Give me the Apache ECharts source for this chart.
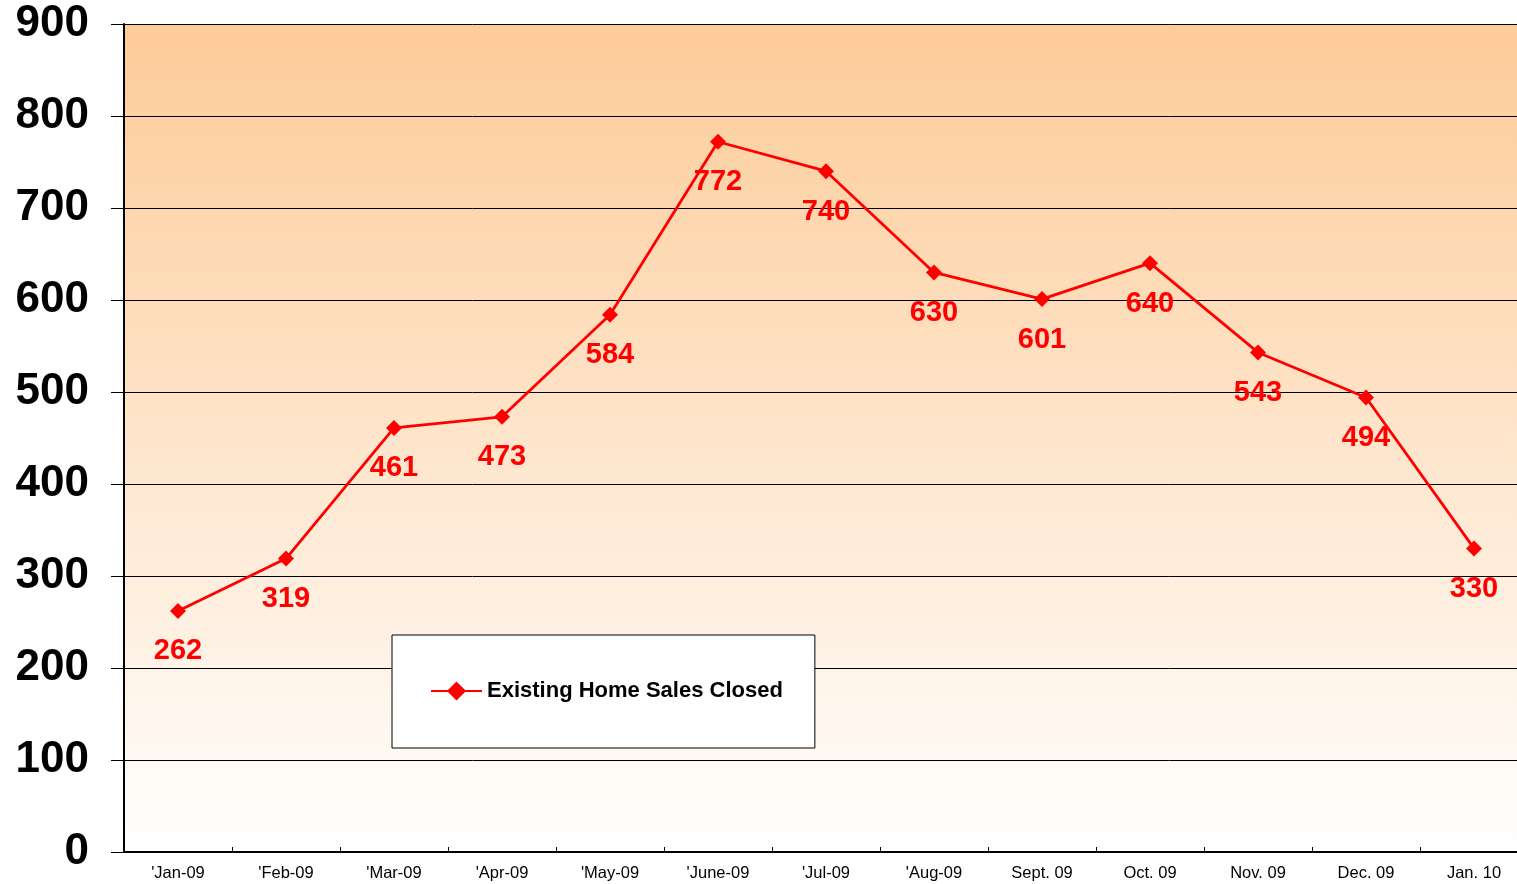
<!DOCTYPE html>
<html><head><meta charset="utf-8">
<script src="https://cdn.jsdelivr.net/npm/echarts@6/dist/echarts.min.js"></script>
<style>html,body{margin:0;padding:0;background:#fff}#c{width:1517px;height:884px}</style>
</head><body><div id="c"></div>
<script>
const categories = ["'Jan-09","'Feb-09","'Mar-09","'Apr-09","'May-09","'June-09","'Jul-09","'Aug-09","Sept. 09","Oct. 09","Nov. 09","Dec. 09","Jan. 10"];
const salesClosed = [262,319,461,473,584,772,740,630,601,640,543,494,330];
const seriesName = 'Existing Home Sales Closed';
const yMin = 0, yMax = 900, yStep = 100;

const chart = echarts.init(document.getElementById('c'), null, {renderer:'canvas'});
chart.setOption({
  animation:false,
  textStyle:{fontFamily:'Liberation Sans, Arial, sans-serif'},
  grid:{left:124, width:1404, top:24, bottom:32, show:true, borderWidth:0,
    containLabel:false, outerBoundsMode:'none',
    backgroundColor:new echarts.graphic.LinearGradient(0,0,0,1,[
      {offset:0,color:'#FDCB97'},{offset:1,color:'#FFFFFF'}])},
  legend:{left:392, top:635, orient:'horizontal', backgroundColor:'#fff', borderColor:'#000', borderWidth:1,
    padding:[45,32,46,38], itemWidth:51, itemHeight:24, itemGap:6,
    textStyle:{fontSize:22, fontWeight:'bold', color:'#000', fontFamily:'Liberation Sans, Arial, sans-serif'},
    data:[seriesName]},
  xAxis:{type:'category', data:categories, boundaryGap:true,
    axisLine:{lineStyle:{color:'#000', width:2}},
    axisTick:{show:true, inside:true, length:5, lineStyle:{color:'#000'}},
    axisLabel:{fontSize:16.5, color:'#000', margin:13}},
  yAxis:{type:'value', min:yMin, max:yMax, interval:yStep,
    axisLine:{show:true, lineStyle:{color:'#000', width:2}},
    axisTick:{show:true, length:13, lineStyle:{color:'#000'}},
    splitLine:{show:true, lineStyle:{color:'#000', width:1}},
    axisLabel:{fontSize:44, fontWeight:'bold', color:'#000', margin:35, lineHeight:50, padding:[6,0,0,0]}},
  series:[{name:seriesName, type:'line', data:salesClosed,
    lineStyle:{color:'#FF0000', width:2.8}, itemStyle:{color:'#FF0000'},
    symbol:'diamond', symbolSize:16,
    label:{show:true, position:'bottom', distance:18, fontSize:29, fontWeight:'bold', color:'#FF0000'}}]
});
</script></body></html>
